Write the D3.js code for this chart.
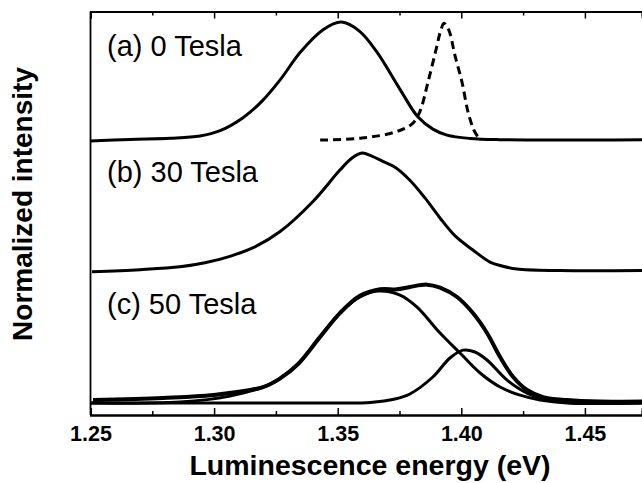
<!DOCTYPE html>
<html>
<head>
<meta charset="utf-8">
<script src="https://cdn.jsdelivr.net/npm/d3@7"></script>
<style>
  body { margin: 0; background: #fff; }
  svg { display: block; }
  text { font-family: "Liberation Sans", Arial, Helvetica, sans-serif; fill: #000; }
</style>
</head>
<body>
<div id="chart"></div>
<script>
// panel labels and vertical offsets (normalized units)
var panelLabels = ["(a) 0 Tesla", "(b) 30 Tesla", "(c) 50 Tesla"];
var panelOffsets = [2.22, 1.11, 0];

// (a) 0 T, solid
var energyA = [1.2498, 1.2660, 1.2822, 1.2943, 1.3024, 1.3117, 1.3194, 1.3267, 1.3347, 1.3441, 1.3515, 1.3590, 1.3659, 1.3752, 1.3825, 1.3885, 1.3942, 1.4035, 1.4157, 1.4731];
var intensA = [-0.008, 0.006, 0.016, 0.035, 0.08, 0.19, 0.33, 0.51, 0.74, 0.935, 1.0, 0.92, 0.745, 0.43, 0.195, 0.093, 0.042, 0.014, 0.004, 0.004];

// (a) dashed reference peak
var energyRef = [1.3429, 1.3598, 1.3732, 1.3800, 1.3832, 1.3865, 1.3897, 1.3917, 1.3930, 1.3950, 1.3974, 1.4003, 1.4027, 1.4051, 1.4068];
var intensRef = [0.0, 0.017, 0.068, 0.136, 0.24, 0.49, 0.76, 0.93, 0.99, 0.93, 0.72, 0.49, 0.24, 0.085, 0.025];

// (b) 30 T
var energyB = [1.2506, 1.2700, 1.2862, 1.2963, 1.3064, 1.3165, 1.3267, 1.3400, 1.3509, 1.3558, 1.3598, 1.3638, 1.3683, 1.3732, 1.3792, 1.3853, 1.3914, 1.3974, 1.4047, 1.4116, 1.4157, 1.4225, 1.4399, 1.4731];
var intensB = [-0.006, 0.012, 0.036, 0.07, 0.125, 0.205, 0.335, 0.59, 0.856, 0.958, 1.0, 0.975, 0.93, 0.88, 0.77, 0.62, 0.45, 0.30, 0.178, 0.076, 0.047, 0.017, 0.004, 0.004];

// (c) 50 T measured spectrum
var energyC = [1.2510, 1.2793, 1.2996, 1.3198, 1.3267, 1.3339, 1.3428, 1.3509, 1.3590, 1.3671, 1.3740, 1.3792, 1.3861, 1.3914, 1.3983, 1.4047, 1.4104, 1.4157, 1.4210, 1.4266, 1.4331, 1.4428, 1.4561, 1.4731];
var intensC = [0.017, 0.034, 0.059, 0.127, 0.20, 0.32, 0.55, 0.754, 0.9, 0.955, 0.955, 0.975, 0.995, 0.97, 0.89, 0.754, 0.585, 0.381, 0.212, 0.102, 0.042, 0.017, 0.004, 0.004];

// (c) fitted components
var energyFit1 = [1.2498, 1.2862, 1.3064, 1.3198, 1.3267, 1.3339, 1.3428, 1.3509, 1.3590, 1.3663, 1.3752, 1.3821, 1.3914, 1.3995, 1.4076, 1.4157, 1.4238, 1.4319, 1.4428, 1.4731];
var intensFit1 = [-0.008, 0.0, 0.05, 0.127, 0.20, 0.32, 0.55, 0.754, 0.89, 0.94, 0.907, 0.805, 0.585, 0.415, 0.246, 0.127, 0.058, 0.017, -0.008, -0.008];
var energyFit2 = [1.2498, 1.3469, 1.3631, 1.3732, 1.3792, 1.3885, 1.3954, 1.4007, 1.4055, 1.4104, 1.4185, 1.4266, 1.4359, 1.4452, 1.4731];
var intensFit2 = [-0.008, -0.008, -0.004, 0.025, 0.068, 0.212, 0.373, 0.44, 0.424, 0.356, 0.186, 0.076, 0.017, -0.008, -0.008];

var majorTicks = [1.25, 1.30, 1.35, 1.40, 1.45];
var minorTicks = [1.275, 1.325, 1.375, 1.425];

var W = 642, H = 483;
var plotLeft = 90.5, plotRight = 642, plotTop = 11.5, plotBottom = 415;

var svg = d3.select("#chart").append("svg")
  .attr("width", W)
  .attr("height", H);

var x = d3.scaleLinear().domain([1.25, 1.4731]).range([plotLeft, plotRight]);
var y = d3.scaleLinear().domain([-0.11, 3.31]).range([plotBottom, plotTop]);

svg.append("clipPath").attr("id", "clip")
  .append("rect")
  .attr("x", plotLeft).attr("y", plotTop)
  .attr("width", plotRight - plotLeft).attr("height", plotBottom - plotTop);

var line = d3.line()
  .x(function(d) { return x(d[0]); })
  .y(function(d) { return y(d[1]); })
  .curve(d3.curveCatmullRom.alpha(0.5));

function series(es, is, off) {
  return es.map(function(e, i) { return [e, is[i] + off]; });
}

var plot = svg.append("g").attr("clip-path", "url(#clip)");

var curves = [
  { d: series(energyA, intensA, panelOffsets[0]), w: 3, dash: null },
  { d: series(energyRef, intensRef, panelOffsets[0]), w: 3, dash: "8,5" },
  { d: series(energyB, intensB, panelOffsets[1]), w: 3, dash: null },
  { d: series(energyFit1, intensFit1, panelOffsets[2]), w: 3, dash: null },
  { d: series(energyFit2, intensFit2, panelOffsets[2]), w: 3, dash: null },
  { d: series(energyC, intensC, panelOffsets[2]), w: 4, dash: null }
];

plot.selectAll(".curve")
  .data(curves)
  .enter()
  .append("path")
  .attr("class", "curve")
  .attr("d", function(d) { return line(d.d); })
  .attr("fill", "none")
  .attr("stroke", "#000")
  .attr("stroke-width", function(d) { return d.w; })
  .attr("stroke-dasharray", function(d) { return d.dash; })
  .attr("stroke-linejoin", "round");

// axes, ticks pointing inward
var fmt = d3.format(".2f");
var xAxis = svg.append("g")
  .attr("transform", "translate(0," + plotBottom + ")")
  .call(d3.axisBottom(x).tickValues(majorTicks).tickSize(-7).tickPadding(11).tickFormat(fmt));
svg.append("g")
  .attr("transform", "translate(0," + plotBottom + ")")
  .call(d3.axisBottom(x).tickValues(minorTicks).tickSize(-4).tickFormat(""));
svg.append("g")
  .attr("transform", "translate(0," + plotTop + ")")
  .call(d3.axisTop(x).tickValues(majorTicks).tickSize(-7).tickFormat(""));
svg.append("g")
  .attr("transform", "translate(0," + plotTop + ")")
  .call(d3.axisTop(x).tickValues(minorTicks).tickSize(-4).tickFormat(""));

svg.selectAll(".domain").attr("stroke", "#000").attr("stroke-width", 1.8);
svg.selectAll(".tick line").attr("stroke", "#000").attr("stroke-width", 1.5);

xAxis.selectAll("text")
  .style("font-size", "21.5px")
  .style("font-weight", "bold")
  .style("font-family", "'Liberation Sans', Arial, sans-serif");

svg.append("line")
  .attr("x1", plotLeft).attr("x2", plotLeft)
  .attr("y1", plotTop).attr("y2", plotBottom)
  .attr("stroke", "#000").attr("stroke-width", 1.8);

// panel labels
var labelY = [56, 182, 314];
svg.selectAll(".plabel")
  .data(panelLabels)
  .enter()
  .append("text")
  .attr("class", "plabel")
  .attr("x", 107)
  .attr("y", function(d, i) { return labelY[i]; })
  .style("font-size", "29px")
  .text(function(d) { return d; });

// axis titles
svg.append("text")
  .attr("x", 370)
  .attr("y", 475)
  .attr("text-anchor", "middle")
  .style("font-size", "28.5px")
  .style("font-weight", "bold")
  .text("Luminescence energy (eV)");

svg.append("text")
  .attr("transform", "translate(32,204) rotate(-90)")
  .attr("text-anchor", "middle")
  .style("font-size", "28px")
  .style("font-weight", "bold")
  .text("Normalized intensity");
</script>
</body>
</html>
